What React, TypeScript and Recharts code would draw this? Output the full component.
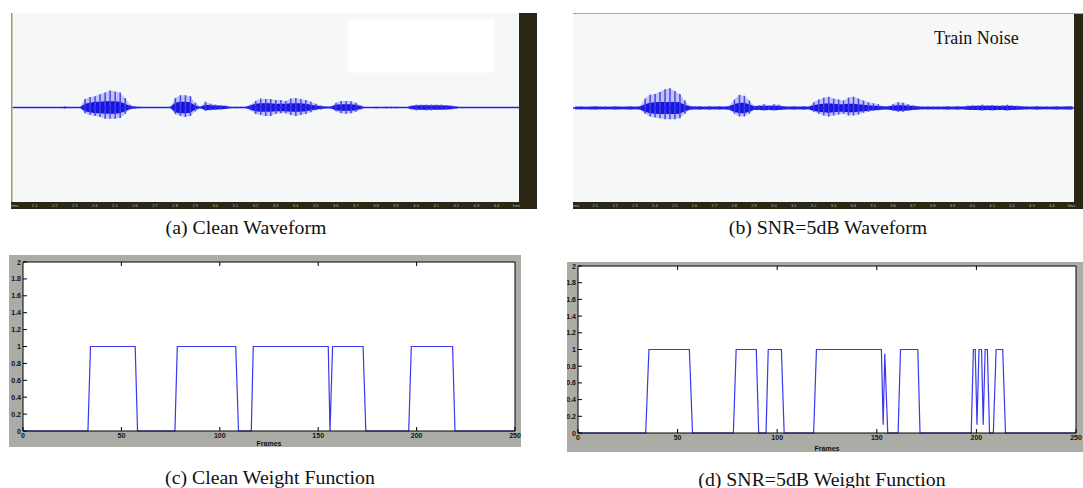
import React from 'react';
import {
  ComposedChart,
  LineChart,
  Line,
  Bar,
  Area,
  XAxis,
  YAxis,
  CartesianGrid,
  ReferenceArea,
  ReferenceLine,
} from 'recharts';

// waveform envelopes, % of full scale, one value per 1/100 of the window
const cleanUp = [
  0, 0, 0, 0, 0, 0, 0, 0, 0, 0.5,
  1, 0, 0, 0, 9, 11, 12, 14, 16, 18,
  17, 16, 10, 3, 1, 0.7, 0, 0, 0, 0,
  0, 0.5, 10, 13, 13, 12, 5, 1, 6, 4,
  3, 2.5, 2, 0.7, 0.7, 0.7, 0.7, 3, 7, 9.5,
  9, 9, 8, 8, 7, 9.5, 10, 9, 8, 6,
  4, 2, 1, 1, 5, 7, 7, 6.5, 5, 2,
  0, 0, 0.7, 0.5, 0.7, 0.7, 0.7, 0.5, 0, 2,
  3, 3, 3, 3, 3, 3, 2.5, 2, 1, 0,
  0, 0, 0, 0, 0, 0, 0, 0, 0, 0, 0,
];
const cleanDown = [
  0, 0, 0, 0, 0, 0, 0, 0, 0, 0.5,
  1, 0, 0, 0, 6, 8, 9, 10, 12, 12,
  12, 11, 7, 2, 1, 0.7, 0, 0, 0, 0,
  0, 0.5, 7, 9, 10, 9, 4, 1, 3.5, 3,
  2.5, 2, 1.5, 0.7, 0.7, 0.7, 0.7, 3, 7, 8,
  9, 9, 7, 6, 6, 8, 9, 8, 7, 5,
  3, 2, 1, 1, 4, 6, 6.5, 6, 4.5, 2,
  0, 0, 0.7, 0.5, 0.7, 0.7, 0.7, 0.5, 0, 2,
  3, 2.5, 3, 3, 2.5, 2.5, 2, 2, 1, 0,
  0, 0, 0, 0, 0, 0, 0, 0, 0, 0, 0,
];
// dense dark core of the clean waveform (±)
const cleanCore = [
  0, 0, 0, 0, 0, 0, 0, 0, 0, 0.3,
  0.5, 0, 0, 0, 4, 5, 6, 6, 6.5, 6.5,
  6.5, 6, 4, 1.5, 0.7, 0.5, 0, 0, 0, 0,
  0, 0.3, 5, 6, 6, 5.5, 2, 0.5, 3, 2.5,
  2, 1.8, 1.5, 0.5, 0.5, 0.5, 0.5, 2, 4, 4.5,
  4.5, 4.5, 4, 4, 4, 4.5, 4.5, 4.5, 4, 3,
  2, 1.2, 0.7, 0.7, 3, 3.5, 3.5, 3.5, 3, 1.2,
  0, 0, 0.4, 0.3, 0.4, 0.4, 0.4, 0.3, 0, 1.5,
  2.2, 2.3, 2.3, 2.2, 2.3, 2.2, 2, 1.6, 0.8, 0,
  0, 0, 0, 0, 0, 0, 0, 0, 0, 0, 0,
];
const noisyUp = [
  1.5, 1.8, 1.4, 1.6, 2, 1.5, 1.7, 1.4, 1.9, 1.6,
  1.5, 1.8, 1.6, 2, 10, 14, 15, 17, 20, 21,
  18, 15, 8, 2.5, 1.8, 2, 1.6, 2.2, 1.8, 2,
  1.7, 2.5, 9, 14, 13, 8, 2.5, 3, 4, 3,
  4, 3.5, 2, 1.6, 1.8, 1.5, 2, 1.7, 6, 9,
  11, 12, 10, 9, 8, 11, 12, 10, 8, 6,
  5, 4, 2, 2, 4, 6, 5.5, 4, 3, 2,
  1.6, 1.8, 1.5, 1.7, 1.6, 1.9, 1.5, 2, 1.8, 2.5,
  3, 2.8, 3.5, 3, 3.2, 2.6, 3, 3.4, 2.8, 2.5,
  2, 1.8, 1.6, 2, 1.7, 1.8, 1.5, 1.9, 1.7, 1.8, 2,
];
const noisyDown = [
  1.2, 1.4, 1.2, 1.5, 1.3, 1.2, 1.5, 1.3, 1.4, 1.2,
  1.3, 1.5, 1.2, 1.6, 6, 9, 10, 11, 12, 12,
  12, 11, 6, 2, 1.5, 1.6, 1.3, 1.7, 1.4, 1.6,
  1.4, 2, 6, 9, 9, 6, 2, 2, 2.5, 2,
  2.5, 2, 1.5, 1.3, 1.5, 1.2, 1.6, 1.4, 4, 6,
  8, 9, 8, 7, 6, 8, 8, 7, 5, 4,
  3, 2.5, 1.5, 1.5, 3, 4, 4, 3, 2, 1.5,
  1.3, 1.5, 1.2, 1.4, 1.3, 1.5, 1.2, 1.6, 1.4, 2,
  2, 2.2, 2.5, 2, 2.3, 2, 2.2, 2.5, 2, 1.8,
  1.5, 1.4, 1.3, 1.6, 1.3, 1.4, 1.2, 1.5, 1.3, 1.4, 1.5,
];
const noisyCore = [
  1.3, 1.4, 1.2, 1.4, 1.5, 1.3, 1.4, 1.2, 1.5, 1.3,
  1.3, 1.5, 1.3, 1.6, 4, 5.5, 6, 6.5, 6.5, 6.5,
  6.5, 6, 3.5, 1.8, 1.4, 1.5, 1.3, 1.6, 1.4, 1.5,
  1.4, 1.8, 4, 5.5, 5.5, 4, 1.8, 2, 2.5, 2,
  2.5, 2.2, 1.6, 1.3, 1.5, 1.3, 1.6, 1.4, 3, 4,
  4.5, 5, 4.5, 4, 4, 4.5, 4.5, 4, 3.5, 3,
  2.5, 2, 1.5, 1.5, 2.5, 3, 3, 2.5, 2, 1.5,
  1.3, 1.4, 1.2, 1.4, 1.3, 1.5, 1.3, 1.5, 1.4, 1.8,
  2, 2.2, 2.5, 2.2, 2.4, 2, 2.2, 2.4, 2, 1.8,
  1.5, 1.4, 1.3, 1.6, 1.4, 1.4, 1.3, 1.5, 1.4, 1.5, 1.6,
];

const ampTicks = [0.9, 0.8, 0.7, 0.6, 0.5, 0.4, 0.3, 0.2, 0.1, 0, -0.1, -0.2, -0.3, -0.4, -0.5, -0.6, -0.7, -0.8, -0.9];
const timeLabels = ['hms', '2.1', '2.2', '2.3', '2.4', '2.5', '2.6', '2.7', '2.8', '2.9', '3.0', '3.1', '3.2', '3.3', '3.4', '3.5', '3.6', '3.7', '3.8', '3.9', '4.0', '4.1', '4.2', '4.3', '4.4', 'hms'];

// weight functions (frame, weight)
const cleanFrames = [0, 33, 34.3, 57, 58.2, 77.2, 78.4, 108.1, 109.5, 116, 117, 155.1, 156, 157.3, 172.8, 174.2, 196, 197.3, 218.3, 219.5, 250];
const cleanWeights = [0, 0, 1, 1, 0, 0, 1, 1, 0, 0, 1, 1, 0, 1, 1, 0, 0, 1, 1, 0, 0];
const noisyFrames = [0, 34, 35.6, 55.9, 57.5, 78, 79.4, 89.5, 90.7, 94.4, 95.5, 102.1, 103.5, 118.3, 119.7, 152.3, 153.2, 154, 155.5, 160.7, 161.9, 170.6, 171.7, 197.4, 198.5, 199.4, 200.3, 201.3, 202.6, 203.4, 204.4, 205.5, 206.6, 208.5, 209.9, 213.2, 214.6, 250];
const noisyWeights = [0, 0, 1, 1, 0, 0, 1, 1, 0, 0, 1, 1, 0, 0, 1, 1, 0.1, 0.95, 0, 0, 1, 1, 0, 0, 1, 1, 0.1, 1, 1, 0.1, 1, 1, 0, 0, 1, 1, 0, 0];

const weightTicks = [0, 0.2, 0.4, 0.6, 0.8, 1, 1.2, 1.4, 1.6, 1.8, 2];
const frameTicks = [0, 50, 100, 150, 200, 250];

const BLUE = '#3737ee';
const MATLAB_GRAY = '#acaca6';
const STRIP = '#2a2717';
const STRIP_TEXT = '#b8b59c';
const serif = '"Liberation Serif", "DejaVu Serif", serif';
const sans = '"Liberation Sans", Arial, sans-serif';

const fmtW = (v: number) => (Number.isInteger(v) ? String(v) : v.toFixed(1));

const LeftTick = (props: any) => {
  const { x, y, payload } = props;
  return (
    <g>
      <line x1={x + 2} x2={x + 6} y1={y} y2={y} stroke="#000" />
      <text x={x} y={y} dy={2.5} textAnchor="end" fontSize={7} fontWeight="bold" fontFamily={sans} fill="#111">
        {fmtW(payload.value)}
      </text>
    </g>
  );
};
const RightTick = (props: any) => {
  const { x, y } = props;
  return <line x1={x - 4} x2={x} y1={y} y2={y} stroke="#000" />;
};
const BottomTick = (props: any) => {
  const { x, y, payload } = props;
  return (
    <g>
      <line x1={x} x2={x} y1={y - 1} y2={y - 5} stroke="#000" />
      <text x={x} y={y + 6} textAnchor="middle" fontSize={7} fontWeight="bold" fontFamily={sans} fill="#111">
        {payload.value}
      </text>
    </g>
  );
};
const TopTick = (props: any) => {
  const { x, y } = props;
  return <line x1={x} x2={x} y1={y} y2={y + 4} stroke="#000" />;
};

// tiny labels inside the dark strips of the audio editor
const StripTimeTick = (props: any) => {
  const { x, y, payload } = props;
  return (
    <text x={x} y={y + 5} textAnchor="middle" fontSize={4} fontFamily={sans} fill={STRIP_TEXT}>
      {timeLabels[payload.value / 4] ?? ''}
    </text>
  );
};
const StripAmpTick = (props: any) => {
  const { x, y, payload } = props;
  return (
    <g>
      <line x1={x} x2={x + 2} y1={y} y2={y} stroke={STRIP_TEXT} strokeWidth={0.6} />
      <text x={x + 3} y={y + 1.5} fontSize={4} fontFamily={sans} fill={STRIP_TEXT}>
        {payload.value.toFixed(1)}
      </text>
    </g>
  );
};

function WeightPanel({ frames, weights, width, height, margin, yw, xh }: any) {
  const data = frames.map((f: number, i: number) => ({ f, w: weights[i] }));
  return (
    <LineChart width={width} height={height} data={data} margin={margin}>
      <CartesianGrid fill="#ffffff" stroke="none" horizontal={false} vertical={false} />
      <XAxis
        dataKey="f"
        type="number"
        domain={[0, 250]}
        ticks={frameTicks}
        interval={0}
        height={xh}
        tickSize={0}
        tickMargin={1}
        tickLine={false}
        axisLine={{ stroke: '#000' }}
        tick={<BottomTick />}
        label={{ value: 'Frames', position: 'insideBottom', offset: 1, fontSize: 7, fontWeight: 'bold', fontFamily: sans, fill: '#111' }}
      />
      <XAxis
        xAxisId="top"
        orientation="top"
        dataKey="f"
        type="number"
        domain={[0, 250]}
        ticks={[50, 100, 150, 200]}
        interval={0}
        height={1}
        tickSize={0}
        tickMargin={0}
        tickLine={false}
        axisLine={{ stroke: '#000' }}
        tick={<TopTick />}
      />
      <YAxis
        domain={[0, 2]}
        ticks={weightTicks}
        interval={0}
        width={yw}
        tickSize={0}
        tickMargin={2}
        tickLine={false}
        axisLine={{ stroke: '#000' }}
        tick={<LeftTick />}
      />
      <YAxis
        yAxisId="right"
        orientation="right"
        domain={[0, 2]}
        ticks={weightTicks}
        interval={0}
        width={1}
        tickSize={0}
        tickMargin={0}
        tickLine={false}
        axisLine={{ stroke: '#000' }}
        tick={<RightTick />}
      />
      <Line type="linear" dataKey="w" stroke={BLUE} strokeWidth={1.2} dot={false} isAnimationActive={false} />
    </LineChart>
  );
}

function WavePanel({ up, down, core, width, height, rightW, leftLine, children }: any) {
  const data = up.map((u: number, i: number) => ({ t: i, range: [-down[i], u], core: [-core[i], core[i]] }));
  return (
    <div style={{ width, height, background: STRIP }}>
      <ComposedChart width={width} height={height} data={data} margin={{ top: 0, right: 0, left: 0, bottom: 0 }}>
        <CartesianGrid fill="#f6f8f8" stroke="none" horizontal={false} vertical={false} />
        <XAxis
          dataKey="t"
          height={7}
          interval={3}
          tickLine={false}
          axisLine={false}
          tickSize={0}
          tickMargin={0}
          tick={<StripTimeTick />}
        />
        <YAxis
          domain={[-100, 100]}
          width={leftLine ? 1 : 0}
          tick={false}
          tickLine={false}
          axisLine={leftLine ? { stroke: '#bdbc9c', strokeWidth: 1.5 } : false}
        />
        <YAxis
          yAxisId="amp"
          orientation="right"
          domain={[-1, 1]}
          ticks={ampTicks}
          interval={0}
          width={rightW}
          tickSize={0}
          tickMargin={0}
          tickLine={false}
          axisLine={false}
          tick={<StripAmpTick />}
        />
        {children}
        <Area type="linear" dataKey="range" stroke="none" fill="#8080f4" fillOpacity={0.45} isAnimationActive={false} />
        <Bar dataKey="range" barSize={1.5} fill="#4646ee" isAnimationActive={false} />
        <Area type="linear" dataKey="core" stroke="none" fill="#1414dc" fillOpacity={1} isAnimationActive={false} />
        <ReferenceLine y={0} stroke="#2020f0" strokeWidth={1.4} />
      </ComposedChart>
    </div>
  );
}

const cap: React.CSSProperties = {
  position: 'absolute',
  fontFamily: serif,
  fontSize: 18,
  color: '#111',
  whiteSpace: 'nowrap',
  transform: 'translate(-50%, -50%) scaleX(1.1)',
};

export default function App() {
  return (
    <div style={{ position: 'absolute', left: 0, top: 0, width: 1083, height: 488, background: '#ffffff', overflow: 'hidden' }}>
      <div style={{ position: 'absolute', left: 11, top: 13 }}>
        <WavePanel up={cleanUp} down={cleanDown} core={cleanCore} width={526} height={196} rightW={18} leftLine>
          <ReferenceArea x1={67} x2={95} y1={37} y2={93} fill="#ffffff" fillOpacity={1} stroke="none" />
        </WavePanel>
      </div>
      <div style={{ position: 'absolute', left: 573, top: 13, borderTop: '1px solid #a8a8a8' }}>
        <WavePanel up={noisyUp} down={noisyDown} core={noisyCore} width={510} height={195} rightW={9} leftLine={false} />
      </div>
      <div style={{ position: 'absolute', left: 934, top: 28, fontFamily: serif, fontSize: 18, color: '#111' }}>Train Noise</div>

      <div style={{ ...cap, left: 246, top: 228 }}>(a) Clean Waveform</div>
      <div style={{ ...cap, left: 828, top: 228 }}>(b) SNR=5dB Waveform</div>

      <div style={{ position: 'absolute', left: 9, top: 255, background: MATLAB_GRAY }}>
        <WeightPanel
          frames={cleanFrames}
          weights={cleanWeights}
          width={512}
          height={192}
          margin={{ top: 6, right: 5, left: 0, bottom: 0 }}
          yw={14}
          xh={16}
        />
      </div>
      <div style={{ position: 'absolute', left: 567, top: 262, background: MATLAB_GRAY }}>
        <WeightPanel
          frames={noisyFrames}
          weights={noisyWeights}
          width={516}
          height={190}
          margin={{ top: 3, right: 6, left: 0, bottom: 0 }}
          yw={11}
          xh={19}
        />
      </div>

      <div style={{ ...cap, left: 270, top: 478 }}>(c) Clean Weight Function</div>
      <div style={{ ...cap, left: 822, top: 480 }}>(d) SNR=5dB Weight Function</div>
    </div>
  );
}
